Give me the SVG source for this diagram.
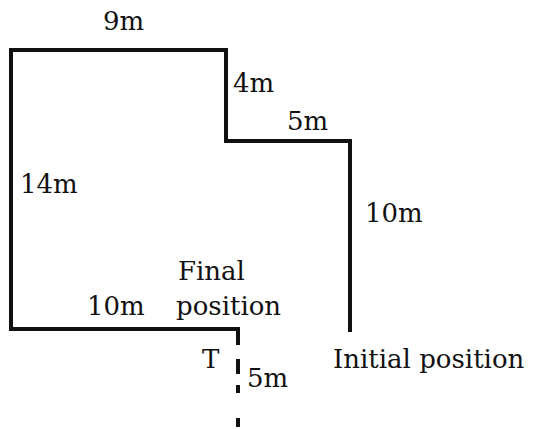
<svg xmlns="http://www.w3.org/2000/svg" width="535" height="429" viewBox="0 0 535 429">
<style>
.p{fill:none;stroke:#111;stroke-width:4;stroke-linejoin:miter;stroke-linecap:square}
.d{fill:none;stroke:#111;stroke-width:4}
text{font-family:"DejaVu Serif","Liberation Serif",serif;font-size:26px;fill:#111}
</style>
<rect width="535" height="429" fill="#fff"/>
<g id="connectors">
<path class="p" d="M350,330 V141 H226 V50 H11 V329 H238 V343"/>
<path class="d" d="M238,359 V374 M238,385 V393 M238,418 V427"/>
</g>
<g id="labels">
<text x="103" y="30">9m</text>
<text x="233" y="92">4m</text>
<text x="287" y="130">5m</text>
<text x="20" y="193">14m</text>
<text x="365" y="222">10m</text>
<text x="178" y="280">Final</text>
<text x="176" y="315">position</text>
<text x="87" y="315">10m</text>
<text x="202" y="368">T</text>
<text x="247" y="387">5m</text>
<text x="333" y="368">Initial position</text>
</g>
</svg>
